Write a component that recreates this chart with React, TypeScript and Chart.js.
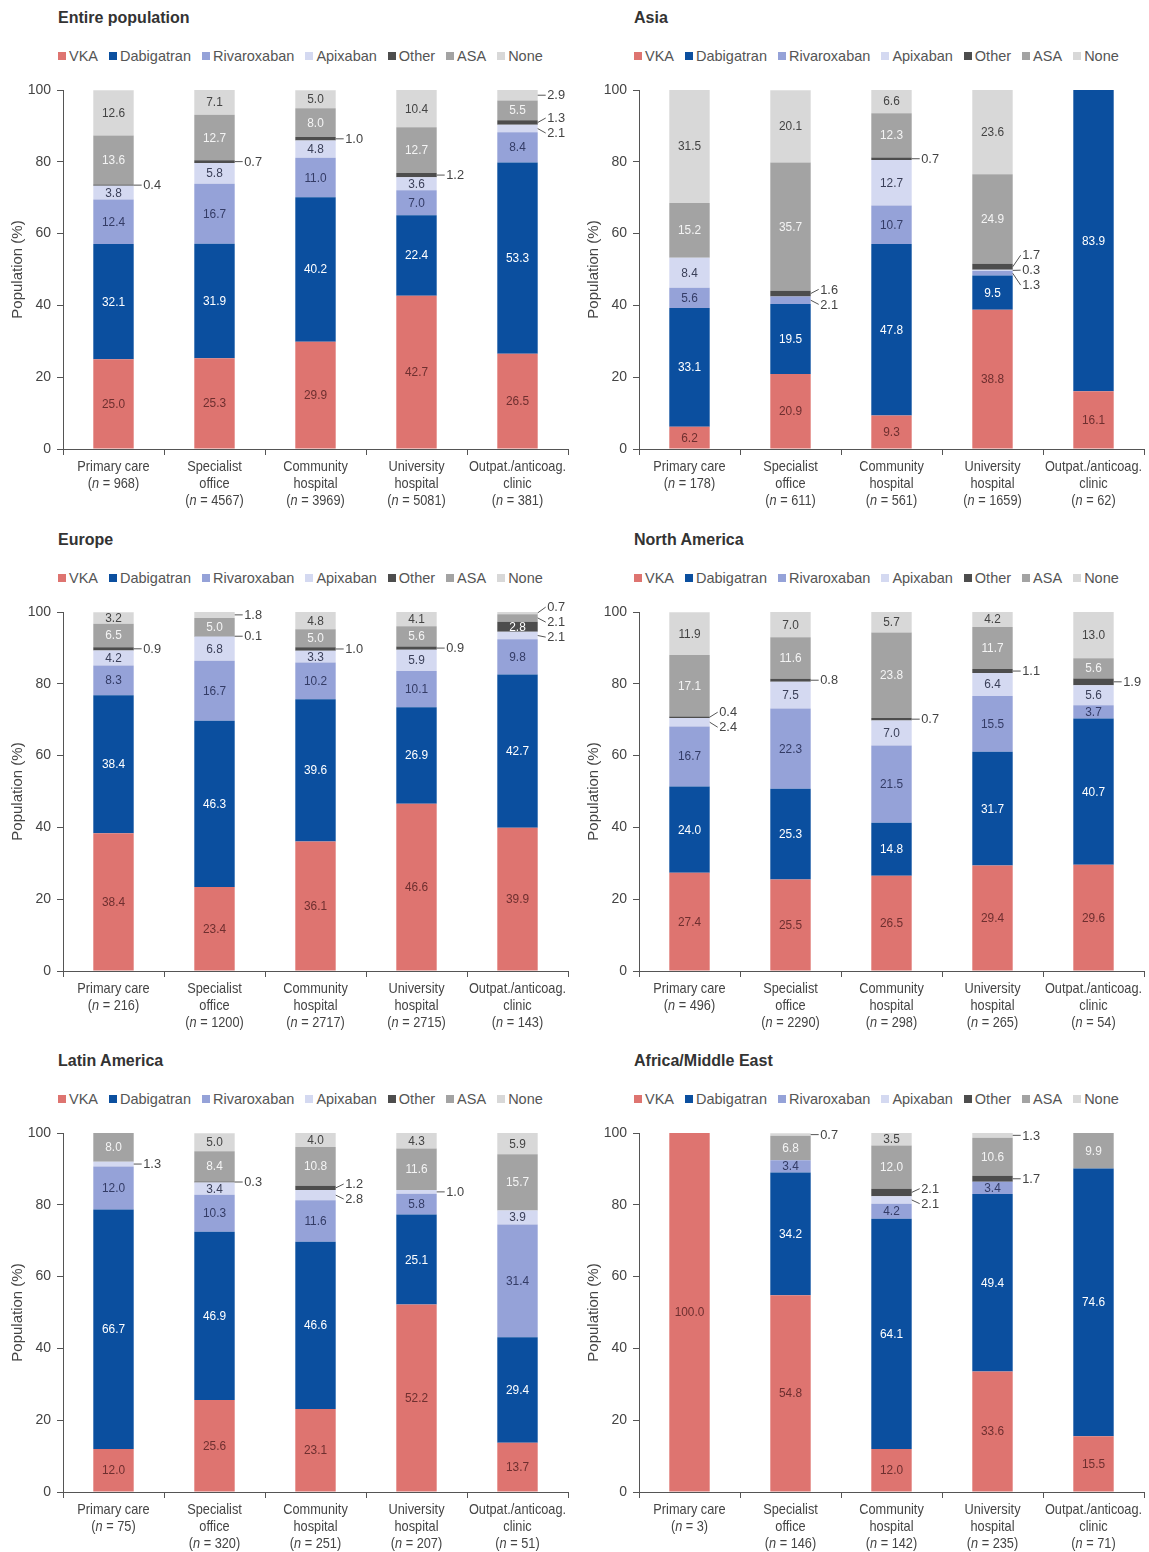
import React, { useEffect, useRef } from "react";
import { Chart, registerables } from "chart.js";
Chart.register(...registerables);

const REG = "'Liberation Sans', Arial, sans-serif";
const CONDENSE = 0.88;

const drugs = ["VKA", "Dabigatran", "Rivaroxaban", "Apixaban", "Other", "ASA", "None"];
const drugColors = ["#de7470", "#0b4f9f", "#95a2d8", "#d4d9f1", "#4d4d4d", "#a3a3a3", "#d8d8d8"];
const insideLabelColors = ["#6e2f2f", "#ffffff", "#343c66", "#3a3f58", "#ffffff", "#f4f4f4", "#444444"];

const settings = [
  ["Primary care"],
  ["Specialist", "office"],
  ["Community", "hospital"],
  ["University", "hospital"],
  ["Outpat./anticoag.", "clinic"],
];
const yTicks = [0, 20, 40, 60, 80, 100];

// Rows: VKA, Dabigatran, Rivaroxaban, Apixaban, Other, ASA, None
// Columns: Primary care, Specialist office, Community hospital, University hospital, Outpat./anticoag. clinic
const entireN = [968, 4567, 3969, 5081, 381];
const entireValues = [
  [25.0, 25.3, 29.9, 42.7, 26.5],
  [32.1, 31.9, 40.2, 22.4, 53.3],
  [12.4, 16.7, 11.0, 7.0, 8.4],
  [3.8, 5.8, 4.8, 3.6, 2.1],
  [0.4, 0.7, 1.0, 1.2, 1.3],
  [13.6, 12.7, 8.0, 12.7, 5.5],
  [12.6, 7.1, 5.0, 10.4, 2.9],
];

const asiaN = [178, 611, 561, 1659, 62];
const asiaValues = [
  [6.2, 20.9, 9.3, 38.8, 16.1],
  [33.1, 19.5, 47.8, 9.5, 83.9],
  [5.6, 2.1, 10.7, 1.3, 0],
  [8.4, 0, 12.7, 0.3, 0],
  [0, 1.6, 0.7, 1.7, 0],
  [15.2, 35.7, 12.3, 24.9, 0],
  [31.5, 20.1, 6.6, 23.6, 0],
];

const europeN = [216, 1200, 2717, 2715, 143];
const europeValues = [
  [38.4, 23.4, 36.1, 46.6, 39.9],
  [38.4, 46.3, 39.6, 26.9, 42.7],
  [8.3, 16.7, 10.2, 10.1, 9.8],
  [4.2, 6.8, 3.3, 5.9, 2.1],
  [0.9, 0.1, 1.0, 0.9, 2.8],
  [6.5, 5.0, 5.0, 5.6, 2.1],
  [3.2, 1.8, 4.8, 4.1, 0.7],
];

const northAmericaN = [496, 2290, 298, 265, 54];
const northAmericaValues = [
  [27.4, 25.5, 26.5, 29.4, 29.6],
  [24.0, 25.3, 14.8, 31.7, 40.7],
  [16.7, 22.3, 21.5, 15.5, 3.7],
  [2.4, 7.5, 7.0, 6.4, 5.6],
  [0.4, 0.8, 0.7, 1.1, 1.9],
  [17.1, 11.6, 23.8, 11.7, 5.6],
  [11.9, 7.0, 5.7, 4.2, 13.0],
];

const latinAmericaN = [75, 320, 251, 207, 51];
const latinAmericaValues = [
  [12.0, 25.6, 23.1, 52.2, 13.7],
  [66.7, 46.9, 46.6, 25.1, 29.4],
  [12.0, 10.3, 11.6, 5.8, 31.4],
  [1.3, 3.4, 2.8, 1.0, 3.9],
  [0, 0.3, 1.2, 0, 0],
  [8.0, 8.4, 10.8, 11.6, 15.7],
  [0, 5.0, 4.0, 4.3, 5.9],
];

const africaN = [3, 146, 142, 235, 71];
const africaValues = [
  [100.0, 54.8, 12.0, 33.6, 15.5],
  [0, 34.2, 64.1, 49.4, 74.6],
  [0, 3.4, 4.2, 3.4, 0],
  [0, 0, 2.1, 0, 0],
  [0, 0, 2.1, 1.7, 0],
  [0, 6.8, 12.0, 10.6, 9.9],
  [0, 0.7, 3.5, 1.3, 0],
];

const panels = [
  { title: "Entire population", values: entireValues, ns: entireN },
  { title: "Asia", values: asiaValues, ns: asiaN },
  { title: "Europe", values: europeValues, ns: europeN },
  { title: "North America", values: northAmericaValues, ns: northAmericaN },
  { title: "Latin America", values: latinAmericaValues, ns: latinAmericaN },
  { title: "Africa/Middle East", values: africaValues, ns: africaN },
];

const GAP = 15;

function condensedText(ctx: CanvasRenderingContext2D, text: string, x: number, y: number, align: CanvasTextAlign, k = CONDENSE) {
  ctx.save();
  ctx.translate(x, y);
  ctx.scale(k, 1);
  ctx.textAlign = align;
  ctx.fillText(text, 0, 0);
  ctx.restore();
}

const segLabelPlugin = {
  id: "segLabels",
  afterDatasetsDraw(chart: any) {
    const ctx = chart.ctx;
    const n = chart.data.labels.length;
    ctx.save();
    for (let j = 0; j < n; j++) {
      const callouts: { y: number; text: string }[] = [];
      let barRight = 0;
      chart.data.datasets.forEach((ds: any, k: number) => {
        const v = ds.data[j];
        if (!v) return;
        const el = chart.getDatasetMeta(k).data[j];
        const cy = (el.y + el.base) / 2;
        barRight = el.x + el.width / 2;
        const inside = v >= 3 || (k === 4 && v >= 2.5);
        if (inside) {
          ctx.font = `12.5px ${REG}`;
          ctx.fillStyle = insideLabelColors[k];
          ctx.textBaseline = "middle";
          condensedText(ctx, v.toFixed(1), el.x, cy + 0.5, "center", 0.95);
        } else {
          callouts.push({ y: cy, text: v.toFixed(1) });
        }
      });
      if (!callouts.length) continue;
      callouts.sort((a, b) => a.y - b.y);
      let clusters = callouts.map((c) => ({ items: [c], center: c.y }));
      let changed = true;
      while (changed) {
        changed = false;
        for (let c = 1; c < clusters.length; c++) {
          const p = clusters[c - 1];
          const q = clusters[c];
          const pBottom = p.center + ((p.items.length - 1) * GAP) / 2;
          const qTop = q.center - ((q.items.length - 1) * GAP) / 2;
          if (qTop - pBottom < GAP) {
            const items = p.items.concat(q.items);
            const center = items.reduce((s, it) => s + it.y, 0) / items.length;
            clusters.splice(c - 1, 2, { items, center });
            changed = true;
            break;
          }
        }
      }
      ctx.strokeStyle = "#555";
      ctx.lineWidth = 1;
      ctx.font = `13.5px ${REG}`;
      ctx.fillStyle = "#444";
      ctx.textBaseline = "middle";
      clusters.forEach((cl) => {
        cl.items.forEach((it, i) => {
          const ly = cl.center - ((cl.items.length - 1) * GAP) / 2 + i * GAP;
          ctx.beginPath();
          ctx.moveTo(barRight, it.y);
          ctx.lineTo(barRight + 8, ly);
          ctx.stroke();
          condensedText(ctx, it.text, barRight + 9.5, ly + 0.5, "left", 0.95);
        });
      });
    }
    ctx.restore();
  },
  afterDraw(chart: any) {
    const ctx = chart.ctx;
    const xs = chart.scales.x;
    const ns: number[] = chart.options.plugins.segLabels.ns;
    const y0 = chart.chartArea.bottom + 18;
    const lh = 17;
    const size = 14.5;
    ctx.save();
    ctx.fillStyle = "#444";
    ctx.textBaseline = "middle";
    settings.forEach((lines, j) => {
      const x = xs.getPixelForValue(j);
      ctx.font = `${size}px ${REG}`;
      lines.forEach((t, li) => condensedText(ctx, t, x, y0 + li * lh, "center"));
      const y = y0 + lines.length * lh;
      const a = "(";
      const b = "n";
      const c = ` = ${ns[j]})`;
      ctx.font = `${size}px ${REG}`;
      const wa = ctx.measureText(a).width * CONDENSE;
      const wc = ctx.measureText(c).width * CONDENSE;
      ctx.font = `italic ${size}px ${REG}`;
      const wb = ctx.measureText(b).width * CONDENSE;
      let xx = x - (wa + wb + wc) / 2;
      ctx.font = `${size}px ${REG}`;
      condensedText(ctx, a, xx, y, "left");
      xx += wa;
      ctx.font = `italic ${size}px ${REG}`;
      condensedText(ctx, b, xx, y, "left");
      xx += wb;
      ctx.font = `${size}px ${REG}`;
      condensedText(ctx, c, xx, y, "left");
    });
    ctx.restore();
  },
};

function Panel({ title, values, ns, left, top }: any) {
  const ref = useRef<HTMLCanvasElement>(null);
  useEffect(() => {
    const chart = new Chart(ref.current as HTMLCanvasElement, {
      type: "bar",
      data: {
        labels: settings.map((s) => s.join(" ")),
        datasets: drugs.map((d, k) => ({
          label: d,
          data: values[k],
          backgroundColor: drugColors[k],
          borderWidth: 0,
          barPercentage: 0.4,
          categoryPercentage: 1,
        })),
      },
      options: {
        responsive: false,
        animation: false,
        devicePixelRatio: 1,
        layout: { padding: { top: 18, right: 6, left: 0, bottom: 0 } },
        plugins: {
          legend: { display: false },
          title: { display: false },
          tooltip: { enabled: false },
          segLabels: { ns },
        } as any,
        scales: {
          x: {
            stacked: true,
            grid: { display: true, drawOnChartArea: false, drawTicks: true, tickLength: 6, color: "#555", offset: true },
            border: { display: true, color: "#555", width: 1 },
            ticks: { display: false },
            afterFit: (s: any) => {
              s.height = 72;
            },
          },
          y: {
            stacked: true,
            min: 0,
            max: 100,
            afterBuildTicks: (s: any) => {
              s.ticks = yTicks.map((v) => ({ value: v }));
            },
            ticks: { color: "#444", font: { family: REG, size: 14 }, padding: 6 },
            grid: { display: true, drawOnChartArea: false, drawTicks: true, tickLength: 6, color: "#555" },
            border: { display: true, color: "#555", width: 1 },
            title: {
              display: true,
              text: "Population (%)",
              color: "#444",
              font: { family: REG, size: 15 },
              padding: { top: 9, bottom: 0 },
            },
            afterFit: (s: any) => {
              s.width = 63;
            },
          },
        },
      },
      plugins: [segLabelPlugin],
    });
    return () => chart.destroy();
  }, []);
  return (
    <div style={{ position: "absolute", left, top, width: 574, height: 521 }}>
      <div
        style={{
          position: "absolute",
          left: 58,
          top: 9,
          font: `bold 16px ${REG}`,
          lineHeight: "18px",
          color: "#333",
          whiteSpace: "nowrap",
        }}
      >
        {title}
      </div>
      <div
        style={{
          position: "absolute",
          left: 58,
          top: 48,
          height: 16,
          display: "flex",
          alignItems: "center",
          font: `14.5px ${REG}`,
          lineHeight: "16px",
          color: "#555",
          whiteSpace: "nowrap",
        }}
      >
        {drugs.map((d, k) => (
          <span key={d} style={{ display: "flex", alignItems: "center", marginRight: 11 }}>
            <span style={{ width: 8, height: 8, background: drugColors[k], marginRight: 3, display: "inline-block" }} />
            <span>{d}</span>
          </span>
        ))}
      </div>
      <canvas ref={ref} width={574} height={449} style={{ position: "absolute", left: 0, top: 72 }} />
    </div>
  );
}

export default function App() {
  const rowTops = [0, 522, 1043];
  return (
    <div style={{ position: "absolute", left: 0, top: 0, width: 1149, height: 1552, background: "#fff" }}>
      {panels.map((p, i) => (
        <Panel key={p.title} title={p.title} values={p.values} ns={p.ns} left={i % 2 === 0 ? 0 : 576} top={rowTops[Math.floor(i / 2)]} />
      ))}
    </div>
  );
}
